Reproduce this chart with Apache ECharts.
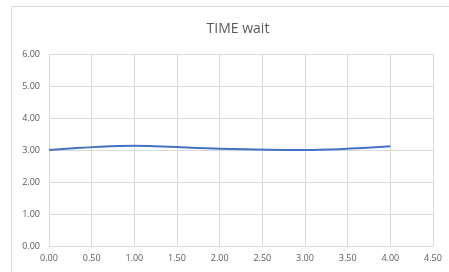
<!DOCTYPE html>
<html><head><meta charset="utf-8">
<script src="https://cdn.jsdelivr.net/npm/echarts@6/dist/echarts.min.js"></script>
<style>html,body{margin:0;padding:0;background:#fff}#c{width:449px;height:272px}</style>
</head><body><div id="c"></div>
<script>
const title = 'TIME wait';
const xValues = [0, 1, 2, 3, 4];
const yValues = [3.00, 3.13, 3.04, 3.00, 3.12];
const chart = echarts.init(document.getElementById('c'));
const txt = '#595959', grid = '#d9d9d9';
chart.setOption({
  animation: false,
  title: { text: title, left: 233, top: 17, textAlign: 'center',
    textStyle: { color: txt, fontSize: 14, fontWeight: 'normal', fontFamily: 'Open Sans' } },
  graphic: [{ type: 'rect', shape: { x: 11.5, y: 6.5, width: 480, height: 300 },
    style: { fill: 'none', stroke: grid, lineWidth: 1 }, silent: true }],
  grid: { left: 49, right: 16, top: 54, bottom: 26 },
  xAxis: { type: 'value', min: 0, max: 4.5, interval: 0.5,
    axisLine: { show: true, lineStyle: { color: grid } }, axisTick: { show: false },
    splitLine: { show: true, lineStyle: { color: grid } },
    axisLabel: { color: txt, fontSize: 9, fontFamily: 'Open Sans', margin: 8, formatter: v => v.toFixed(2) } },
  yAxis: { type: 'value', min: 0, max: 6, interval: 1,
    axisLine: { show: false }, axisTick: { show: false },
    splitLine: { show: true, lineStyle: { color: grid } },
    axisLabel: { color: txt, fontSize: 9, fontFamily: 'Open Sans', margin: 9, formatter: v => v.toFixed(2) } },
  series: [{ type: 'line', data: xValues.map((x, i) => [x, yValues[i]]), smooth: 0.3,
    showSymbol: false, lineStyle: { color: '#4472C4', width: 2 } }]
});
</script></body></html>
